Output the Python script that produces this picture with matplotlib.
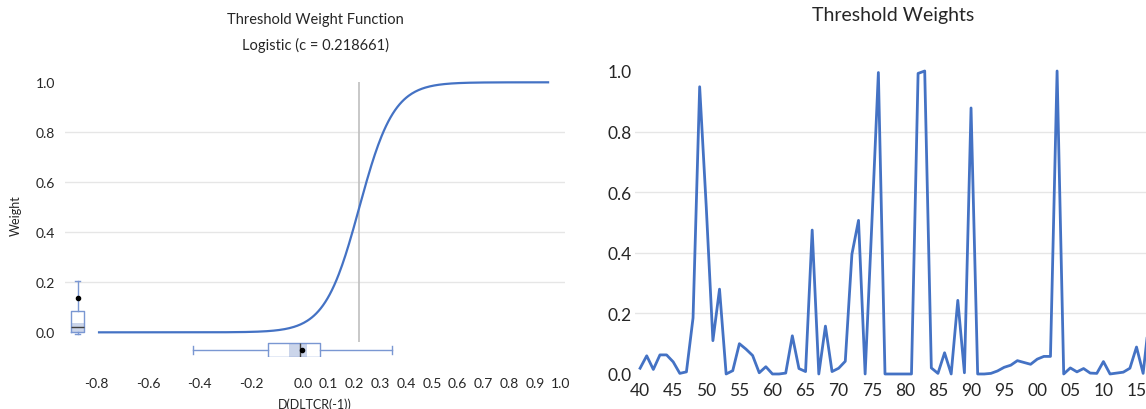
import matplotlib
matplotlib.use('Agg')
import matplotlib.pyplot as plt
import numpy as np

plt.rcParams['font.family'] = ['Lato', 'DejaVu Sans']

# ---- left panel: logistic threshold weight function
c = 0.218661
gamma = 15.0
x_start, x_end = -0.79, 0.95
xticks_left = [-0.8, -0.6, -0.4, -0.2, 0.0, 0.1, 0.2, 0.3, 0.4, 0.5, 0.6, 0.7, 0.8, 0.9, 1.0]
yticks_left = [0.0, 0.2, 0.4, 0.6, 0.8, 1.0]

# marginal box plots
xbox = dict(whislo=-0.425, q1=-0.135, med=-0.012, q3=0.066, whishi=0.345, mean=-0.005, fliers=[])
xbox_shade = (-0.055, 0.016)
ybox = dict(whislo=-0.007, q1=0.0, med=0.022, q3=0.086, whishi=0.206, mean=0.137, fliers=[])
ybox_shade = (0.0, 0.036)

# ---- right panel: threshold weights by year
years = list(range(1940, 2018))
weights = [0.019, 0.060, 0.015, 0.063, 0.063, 0.040, 0.002, 0.007, 0.185, 0.948,
           0.550, 0.110, 0.280, 0.000, 0.011, 0.100, 0.082, 0.061, 0.004, 0.024,
           0.000, 0.000, 0.003, 0.126, 0.018, 0.008, 0.475, 0.000, 0.158, 0.008,
           0.019, 0.042, 0.395, 0.507, 0.000, 0.490, 0.995, 0.000, 0.000, 0.000,
           0.000, 0.000, 0.992, 1.000, 0.020, 0.002, 0.070, 0.000, 0.243, 0.004,
           0.878, 0.000, 0.000, 0.002, 0.010, 0.022, 0.029, 0.044, 0.038, 0.032,
           0.049, 0.058, 0.058, 1.000, 0.000, 0.020, 0.007, 0.018, 0.003, 0.002,
           0.041, 0.000, 0.003, 0.006, 0.019, 0.089, 0.002, 0.200]

blue = '#4472C4'
box_edge = '#7A97D2'
box_fill = '#CBD5EA'
grid_c = '#E6E6E6'
txt = '#262626'

fig = plt.figure(figsize=(11.46, 4.10), dpi=100)

# ---------------- left
ax = fig.add_axes([0.0567, 0.126, 0.4363, 0.683])
xs = np.linspace(x_start, x_end, 400)
w = 1.0 / (1.0 + np.exp(-gamma * (xs - c)))
ax.plot(xs, w, color=blue, lw=1.6, zorder=3)
ax.vlines(c, -0.04, 1.0, color='#BFBFBF', lw=1.2, zorder=2)
for yv in yticks_left[1:-1]:
    ax.axhline(yv, color=grid_c, lw=1, zorder=0)

ax.set_xlim(-0.922, 1.0155)
ax.set_ylim(-0.1, 1.02)
ax.set_xticks(xticks_left)
ax.set_xticklabels(['%.1f' % v for v in xticks_left])
ax.set_yticks(yticks_left)
ax.set_yticklabels(['%.1f' % v for v in yticks_left])
ax.tick_params(length=0, labelsize=10, colors=txt)
ax.tick_params(axis='x', pad=14)
ax.tick_params(axis='y', pad=7)
for s in ax.spines.values():
    s.set_visible(False)

box_kw = dict(showmeans=True, showfliers=False, manage_ticks=False, zorder=4,
              boxprops=dict(color=box_edge, lw=1),
              whiskerprops=dict(color=box_edge, lw=1),
              capprops=dict(color=box_edge, lw=1),
              medianprops=dict(color='#404040', lw=1),
              meanprops=dict(marker='o', markerfacecolor='black', markeredgecolor='black', markersize=3))

# vertical box (weights) at the left
ypos = -0.873
ax.bar(ypos, ybox_shade[1] - ybox_shade[0], bottom=ybox_shade[0], width=0.053,
       color=box_fill, zorder=3)
ax.bxp([ybox], positions=[ypos], widths=0.053, capwidths=0.022, **box_kw)

# horizontal box (threshold variable) below
xpos = -0.07
ax.barh(xpos, xbox_shade[1] - xbox_shade[0], left=xbox_shade[0], height=0.056,
        color=box_fill, zorder=3)
ax.bxp([xbox], positions=[xpos], widths=0.056, vert=False, capwidths=0.03, **box_kw)

fig.text(0.275, 0.951, 'Threshold Weight Function', ha='center', va='center', fontsize=10.5, color=txt)
fig.text(0.275, 0.888, 'Logistic (c = 0.218661)', ha='center', va='center', fontsize=10.5, color=txt)
ax.set_xlabel('D(DLTCR(-1))', fontsize=9, color=txt, labelpad=6)
fig.text(0.014, 0.475, 'Weight', rotation=90, ha='center', va='center', fontsize=9, color=txt)

# ---------------- right
ax2 = fig.add_axes([0.5545, 0.0854, 0.4456, 0.739])
ax2.plot(years, weights, color=blue, lw=2, clip_on=False, zorder=3)
ax2.set_xlim(1939.3, 2016.45)
ax2.set_ylim(0, 1.0)
ax2.set_xticks(list(range(1940, 2016, 5)))
ax2.set_xticklabels(['%02d' % (y % 100) for y in range(1940, 2016, 5)])
ax2.set_xticks(list(range(1950, 2016, 10)), minor=True)
ax2.set_yticks([0.0, 0.2, 0.4, 0.6, 0.8, 1.0])
ax2.set_yticklabels(['0.0', '0.2', '0.4', '0.6', '0.8', '1.0'])
ax2.grid(which='minor', axis='x', color=grid_c, lw=1)
for yv in [0.2, 0.4, 0.6, 0.8]:
    ax2.axhline(yv, color=grid_c, lw=1, zorder=0)
ax2.tick_params(which='both', length=0, labelsize=12.5, colors=txt)
ax2.tick_params(axis='y', pad=3)
ax2.tick_params(axis='x', pad=6)
for s in ax2.spines.values():
    s.set_visible(False)
fig.text(0.779, 0.963, 'Threshold Weights', ha='center', va='center', fontsize=14, color=txt)

plt.savefig('out.png', dpi=100)
